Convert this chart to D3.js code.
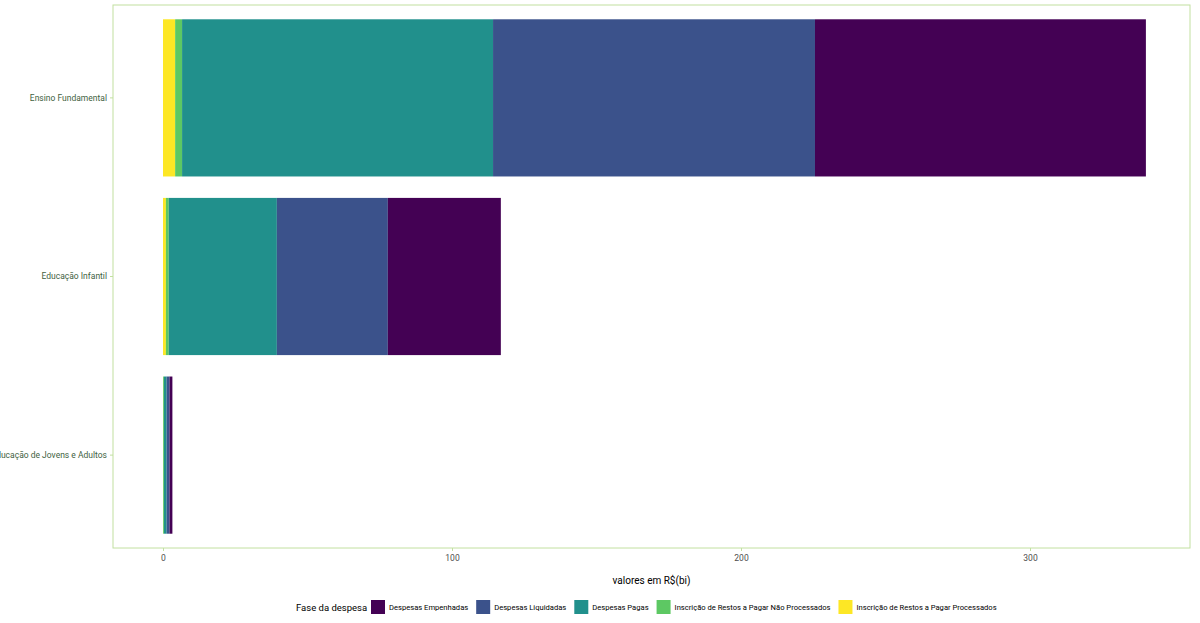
<!DOCTYPE html>
<html><head><meta charset="utf-8">
<script src="https://cdn.jsdelivr.net/npm/d3@7"></script>
<style>body{margin:0;background:#fff;font-family:Roboto,"Liberation Sans",sans-serif}</style>
</head><body><div id="chart"></div>
<script>
var categories = ["Ensino Fundamental", "Educação Infantil", "Educação de Jovens e Adultos"];
// stacked left to right
var phases = ["Inscrição de Restos a Pagar Processados", "Inscrição de Restos a Pagar Não Processados",
              "Despesas Pagas", "Despesas Liquidadas", "Despesas Empenhadas"];
var processados    = [4.2, 1.0, 0.05];
var naoProcessados = [2.4, 1.0, 0.3];
var pagas          = [107.6, 37.4, 0.9];
var liquidadas     = [111.4, 38.4, 1.0];
var empenhadas     = [114.5, 39.1, 1.0];
var xTicks = [0, 100, 200, 300];
var legendOrder = ["Despesas Empenhadas", "Despesas Liquidadas", "Despesas Pagas",
                   "Inscrição de Restos a Pagar Não Processados", "Inscrição de Restos a Pagar Processados"];
var colors = {"Despesas Empenhadas":"#440154", "Despesas Liquidadas":"#3b528b", "Despesas Pagas":"#21908c",
              "Inscrição de Restos a Pagar Não Processados":"#5dc863", "Inscrição de Restos a Pagar Processados":"#fde725"};

var series = [processados, naoProcessados, pagas, liquidadas, empenhadas];
var rows = categories.map(function(c, i){
    var r = {cat: c};
    phases.forEach(function(p, j){ r[p] = series[j][i]; });
    return r;
});

var w = 1200, h = 623;
var svg = d3.select("#chart").append("svg").attr("width", w).attr("height", h);
var pLeft = 113, pRight = 1190, pTop = 5, pBottom = 548;

var x = d3.scaleLinear().domain([0, 300]).range([163, 1030]);
var y = d3.scaleBand().domain(categories).range([pTop, pBottom]).paddingInner(0.12).paddingOuter(0.08);

var stack = d3.stack().keys(phases)(rows);
svg.selectAll("g.layer").data(stack).enter().append("g")
    .attr("fill", function(d){ return colors[d.key]; })
    .selectAll("rect").data(function(d){ return d; }).enter().append("rect")
    .attr("x", function(d){ return x(d[0]); })
    .attr("width", function(d){ return x(d[1]) - x(d[0]); })
    .attr("y", function(d){ return y(d.data.cat); })
    .attr("height", y.bandwidth());

svg.append("rect").attr("x", pLeft).attr("y", pTop).attr("width", pRight-pLeft).attr("height", pBottom-pTop)
    .attr("fill", "none").attr("stroke", "#c2e0a0").attr("stroke-width", 1);

var xa = svg.append("g").attr("transform", "translate(0," + pBottom + ")")
    .call(d3.axisBottom(x).tickValues(xTicks).tickSize(3).tickPadding(4));
xa.select(".domain").remove();
xa.selectAll("line").attr("stroke", "#c2e0a0");
xa.selectAll("text").attr("fill", "#4d4d4d").attr("font-size", "8.5px").attr("font-family", "Roboto");

var ya = svg.append("g").attr("transform", "translate(" + pLeft + ",0)")
    .call(d3.axisLeft(y).tickSize(3).tickPadding(3));
ya.select(".domain").remove();
ya.selectAll("line").attr("stroke", "#c2e0a0");
ya.selectAll("text").attr("fill", "#3f5f3f").attr("font-size", "8.5px").attr("font-family", "Roboto");

svg.append("text").attr("x", (pLeft+pRight)/2).attr("y", 584).attr("text-anchor", "middle")
    .attr("font-size", "10px").attr("fill", "#000").text("valores em R$(bi)");

var lg = svg.append("g").attr("transform", "translate(296,607)");
lg.append("text").attr("x", 0).attr("y", 3.5).attr("font-size", "9.5px").text("Fase da despesa");
var xpos = 75;
legendOrder.forEach(function(k){
    lg.append("rect").attr("x", xpos).attr("y", -7).attr("width", 14).attr("height", 14).attr("fill", colors[k]);
    var t = lg.append("text").attr("x", xpos + 18).attr("y", 3).attr("font-size", "7.6px").text(k);
    xpos += 18 + t.node().getComputedTextLength() + 8;
});
</script></body></html>
